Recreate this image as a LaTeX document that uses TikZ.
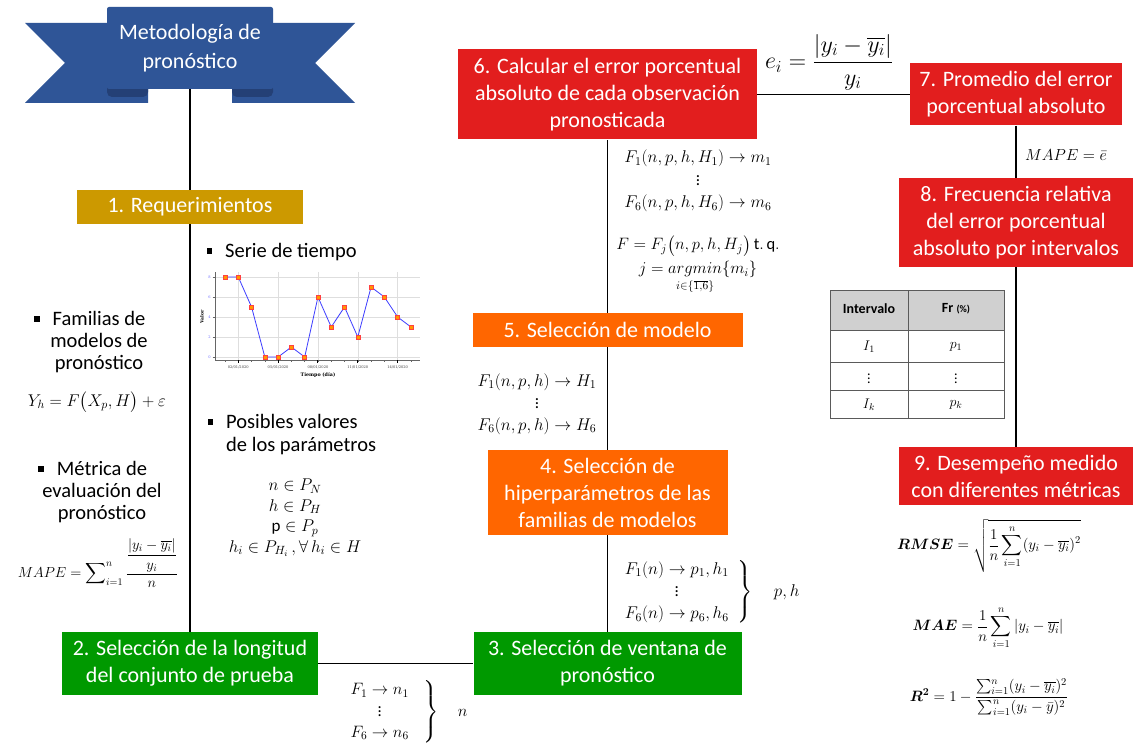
\documentclass[tikz,border=0pt]{standalone}
\usepackage{fix-cm}
\usepackage{amsmath}
\usepackage{fontspec}
\setmainfont{Carlito}
\newfontfamily\chartfont{DejaVu Serif}
\usetikzlibrary{positioning}
\definecolor{bannerBlue}{RGB}{47,85,151}
\definecolor{bannerFold}{RGB}{36,64,118}
\definecolor{stageGold}{RGB}{204,153,0}
\definecolor{stageGreen}{RGB}{0,153,0}
\definecolor{stageOrange}{RGB}{255,102,0}
\definecolor{stageRed}{RGB}{226,30,30}
\definecolor{headGrey}{RGB}{208,208,208}
\definecolor{tableInk}{RGB}{90,90,90}
\definecolor{gridGrey}{RGB}{222,222,222}
\definecolor{seriesBlue}{RGB}{60,60,255}
\definecolor{markOrange}{RGB}{255,150,0}
\definecolor{tickBlue}{RGB}{110,110,255}
\tikzset{
  stage/.style={align=center, text=white, inner sep=0pt, font=\fontsize{22}{27}\selectfont},
  goldbox/.style={stage, fill=stageGold},
  greenbox/.style={stage, fill=stageGreen},
  orangebox/.style={stage, fill=stageOrange},
  redbox/.style={stage, fill=stageRed},
  note/.style={align=center, inner sep=0pt, font=\fontsize{20.5}{22}\selectfont},
  formula/.style={align=center, inner sep=0pt, font=\fontsize{17}{22}\selectfont},
  cell/.style={inner sep=0pt, font=\fontsize{14}{16}\selectfont},
  link/.style={line width=1.8pt, draw=black},
  tableline/.style={line width=0.9pt, draw=tableInk}
}
\newcommand{\sqbullet}{\llap{\rule[3.5pt]{5.5pt}{5.5pt}\hspace{13pt}}}

\begin{document}
\begin{tikzpicture}[x=1pt,y=-1pt]
  \useasboundingbox (0,0) rectangle (1133,749);
  \fill[white] (0,0) rectangle (1133,749);

  % banner
  \fill[bannerBlue] (25,23) -- (148,23) -- (148,103) -- (25,103) -- (65,63) -- cycle;
  \fill[bannerBlue] (355,23) -- (232,23) -- (232,103) -- (355,103) -- (315,63) -- cycle;
  \fill[bannerFold, rounded corners=5pt] (107,84) rectangle (148,97);
  \fill[bannerFold, rounded corners=5pt] (232,84) rectangle (273,97);
  \fill[bannerBlue, rounded corners=2pt] (107,7) rectangle (273,89);
  \node[stage, font=\fontsize{22}{29}\selectfont, minimum width=166pt, minimum height=82pt] (banner) at (190,48) {Metodología de\\pronóstico};

  % stages
  \node[goldbox, minimum width=226pt, minimum height=34pt] (req) at (190,207) {1. Requerimientos};
  \node[greenbox, minimum width=256pt, minimum height=63pt] (longitud) at (190,663.5) {2. Selección de la longitud\\del conjunto de prueba};
  \node[greenbox, minimum width=268pt, minimum height=63pt] (ventana) at (607.5,663.5) {3. Selección de ventana de\\pronóstico};
  \node[orangebox, minimum width=240pt, minimum height=85pt] (hiper) at (607.5,492.5) {4. Selección de\\hiperparámetros de las\\familias de modelos};
  \node[orangebox, minimum width=270pt, minimum height=34pt] (modelo) at (607.5,330) {5. Selección de modelo};
  \node[redbox, minimum width=299pt, minimum height=90pt] (error) at (607.5,94.5) {6. Calcular el error porcentual\\absoluto de cada observación\\pronosticada};
  \node[redbox, minimum width=212pt, minimum height=62pt] (promedio) at (1016,94.5) {7. Promedio del error\\porcentual absoluto};
  \node[redbox, minimum width=234pt, minimum height=89pt] (frecuencia) at (1016,222.5) {8. Frecuencia relativa\\del error porcentual\\absoluto por intervalos};
  \node[redbox, minimum width=234pt, minimum height=58pt] (desempeno) at (1016,476) {9. Desempeño medido\\con diferentes métricas};

  \draw[link] (banner.south) -- (req.north);
  \draw[link] (req.south) -- (longitud.north);
  \draw[link] (longitud.east) -- (ventana.west);
  \draw[link] (ventana.north) -- (hiper.south);
  \draw[link] (hiper.north) -- (modelo.south);
  \draw[link] (modelo.north) -- (error.south);
  \draw[link] (error.east) -- (promedio.west);
  \draw[link] (promedio.south) -- (frecuencia.north);
  \draw[link] (frecuencia.south) -- (desempeno.north);

  % requirements
  \node[note] (familias) at (99,342) {\sqbullet Familias de\\modelos de\\pronóstico};
  \node[formula] (modeleq) at (97,402) {$Y_h=F\big(X_p,H\big)+\varepsilon$};
  \node[note] (metrica) at (102,492) {\sqbullet Métrica de\\evaluación del\\pronóstico};
  \node[formula, font=\fontsize{14.5}{20}\selectfont] (mapeleft) at (98,563) {$MAPE=\displaystyle\sum\nolimits_{i=1}^{n}\dfrac{\dfrac{|y_i-\overline{y_i}|}{y_i}}{n}$};
  \node[note, anchor=west, align=left] (serie) at (225,252) {\sqbullet Serie de tiempo};
  \node[note, anchor=west, align=left, font=\fontsize{20.5}{23}\selectfont] (posibles) at (226,434.5) {\sqbullet Posibles valores\\de los parámetros};
  \node[formula, font=\fontsize{17}{20.5}\selectfont] (params) at (295,518) {$n\in P_N$\\$h\in P_H$\\$\mathrm{p}\in P_p$\\$h_i\in P_{H_i}\,,\forall\, h_i\in H$};

  % time series chart
  \begin{scope}[font=\chartfont\fontsize{3.6}{4}\selectfont]
    \foreach \v in {0,2,4,6,8}
      \draw[gridGrey, line width=0.6pt] (215,{357-10*\v}) -- (420,{357-10*\v});
    \foreach \k in {2,5,8,11,14}
      \draw[gridGrey, line width=0.6pt] ({225+(\k-1)*13.28},272) -- ({225+(\k-1)*13.28},360);
    \draw[black!60, line width=0.7pt] (215,272) -- (215,360) -- (420,360);
    \foreach \k in {1,...,15}
      \draw[black!60, line width=0.5pt] ({225+(\k-1)*13.28},360) -- ++(0,2);
    \foreach \k/\dd in {2/02,5/05,8/08,11/11,14/14} {
      \draw[black, line width=1pt] ({225+(\k-1)*13.28},360) -- ++(0,3);
      \node[text=black!75, inner sep=0pt] at ({225+(\k-1)*13.28},367.5) {\dd/01/2020};
    }
    \foreach \v in {0,2,4,6,8} {
      \draw[black!60, line width=0.6pt] (212.5,{357-10*\v}) -- (215,{357-10*\v});
      \node[text=tickBlue, inner sep=0pt] at (209.5,{357-10*\v}) {\v};
    }
    \node[rotate=90, inner sep=0pt, font=\chartfont\bfseries\fontsize{4.5}{5}\selectfont] at (202,317) {Valor};
    \node[inner sep=0pt, font=\chartfont\bfseries\fontsize{4.8}{5}\selectfont] at (318,375.5) {Tiempo (día)};
    \draw[seriesBlue, line width=0.8pt] (225,277)
      \foreach \v [count=\k] in {8,8,5,0,0,1,0,6,3,5,2,7,6,4,3} { -- ({225+(\k-1)*13.28},{357-10*\v}) };
    \foreach \v [count=\k] in {8,8,5,0,0,1,0,6,3,5,2,7,6,4,3}
      \filldraw[fill=markOrange, draw=red!75, line width=0.5pt] ({225+(\k-1)*13.28-2},{357-10*\v-2}) rectangle ++(4,4);
  \end{scope}

  % formulas along the flow
  \node[formula, font=\fontsize{16.5}{20.5}\selectfont] (nsel) at (406,712) {$\left.\begin{array}{c}F_1\rightarrow n_1\\ \vdots\\ F_6\rightarrow n_6\end{array}\hspace{10pt}\right\}\hspace{16pt}n$};
  \node[formula, font=\fontsize{17}{22}\selectfont] (phsel) at (709,592) {$\left.\begin{array}{c}F_1(n)\rightarrow p_1,h_1\\ \vdots\\ F_6(n)\rightarrow p_6,h_6\end{array}\hspace{4pt}\right\}\hspace{18pt}p,h$};
  \node[formula] (hsel) at (537,404) {$F_1(n,p,h)\rightarrow H_1$\\$\vdots$\\$F_6(n,p,h)\rightarrow H_6$};
  \node[formula, font=\fontsize{17}{22.5}\selectfont] (msel) at (698,181) {$F_1(n,p,h,H_1)\rightarrow m_1$\\$\vdots$\\$F_6(n,p,h,H_6)\rightarrow m_6$};
  \node[formula, font=\fontsize{16.5}{24}\selectfont] (argmin) at (698,265) {$F=F_j\big(n,p,h,H_j\big)\,\mathrm{t.\,q.}$\\$j=\underset{i\in\{\overline{1,6}\}}{argmin}\{m_i\}$};
  \node[formula, font=\fontsize{24}{28}\selectfont] (ei) at (829,62) {$e_i=\dfrac{|y_i-\overline{y_i}|}{y_i}$};
  \node[formula, font=\fontsize{16}{18}\selectfont] (mapeavg) at (1066,155) {$MAPE=\bar{e}$};

  % frequency table
  \fill[headGrey] (830,290) rectangle (1004,330);
  \draw[tableline] (830,290) rectangle (1004,418);
  \draw[tableline] (908,290) -- (908,418);
  \foreach \y in {330,362,390}
    \draw[tableline] (830,\y) -- (1004,\y);
  \node[cell, font=\bfseries\fontsize{14}{16}\selectfont] (hint) at (869,309) {Intervalo};
  \node[cell, font=\bfseries\fontsize{14}{16}\selectfont] (hfr) at (956,309) {Fr {\fontsize{10}{12}\selectfont(\%)}};
  \node[cell] (i1) at (869,347) {$I_1$};
  \node[cell] (p1) at (956,347) {$p_1$};
  \node[cell] (idots) at (869,376) {$\vdots$};
  \node[cell] (pdots) at (956,376) {$\vdots$};
  \node[cell] (ik) at (869,405) {$I_k$};
  \node[cell] (pk) at (956,405) {$p_k$};

  % metrics
  \node[formula, font=\fontsize{15}{18}\selectfont] (rmse) at (989,546) {$\boldsymbol{RMSE}=\sqrt{\dfrac{1}{n}\displaystyle\sum_{i=1}^{n}(y_i-\overline{y_i})^2}$};
  \node[formula, font=\fontsize{15}{18}\selectfont] (mae) at (988,628) {$\boldsymbol{MAE}=\dfrac{1}{n}\displaystyle\sum_{i=1}^{n}|y_i-\overline{y_i}|$};
  \node[formula, font=\fontsize{15}{18}\selectfont] (rsq) at (989,697) {$\boldsymbol{R^2}=1-\dfrac{\sum_{i=1}^{n}(y_i-\overline{y_i})^2}{\sum_{i=1}^{n}(y_i-\bar{y})^2}$};
\end{tikzpicture}
\end{document}
